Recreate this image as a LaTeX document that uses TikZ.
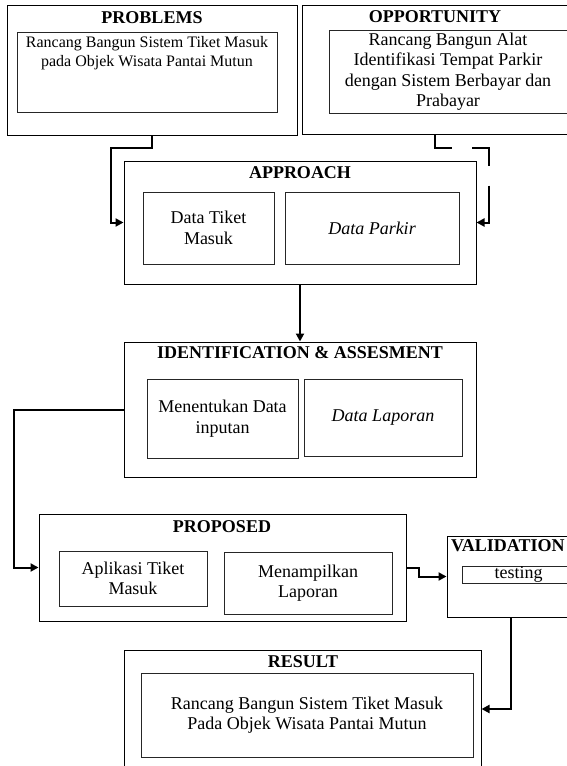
\documentclass[tikz,border=0pt]{standalone}
\usepackage{fontspec}
\setmainfont{Liberation Serif}
\usetikzlibrary{arrows.meta,positioning}
\tikzset{
        boxnode/.style={align=center,inner sep=0pt},
        % Outer frames
        node_frame/.style={boxnode, rectangle, draw=black, line width=1pt, fill=white},
        % Inner boxes
        node_inner/.style={boxnode, rectangle, draw=black!85, line width=0.9pt, font=\fontsize{18}{20.5}\selectfont},
        % Frame titles
        node_title/.style={boxnode, font=\bfseries\fontsize{18}{20}\selectfont},
        % Free text
        node_text/.style={boxnode, font=\fontsize{16}{19}\selectfont},
        % Connectors
        edge_link/.style={line width=2pt, -{Triangle[length=8pt,width=8pt]}}
}
\begin{document}
\begin{tikzpicture}[x=1pt, y=-1pt]
    \useasboundingbox (0,0) rectangle (567,766);
    \clip (0,0) rectangle (567,766);
    % Problems
    \node[node_frame, minimum width=290, minimum height=130] (problems) at (152,70) {};
    \node[node_title] (problems_title) at (152,18) {PROBLEMS};
    \node[node_inner, minimum width=260, minimum height=80] (problems_in) at (147,72) {};
    \node[node_text] (problems_txt) at (147,53.5) {Rancang Bangun Sistem Tiket Masuk\\pada Objek Wisata Pantai Mutun};
    % Opportunity
    \node[node_frame, minimum width=266, minimum height=129] (opportunity) at (435,69.5) {};
    \node[node_title] (opportunity_title) at (435,17) {OPPORTUNITY};
    \node[node_inner, minimum width=238, minimum height=83] (opportunity_in) at (448,71.5)
        {Rancang Bangun Alat\\Identifikasi Tempat Parkir\\dengan Sistem Berbayar dan\\Prabayar};
    % Approach
    \node[node_frame, minimum width=352, minimum height=123] (approach) at (300,222.5) {};
    \node[node_title] (approach_title) at (300,173) {APPROACH};
    \node[node_inner, minimum width=131, minimum height=72] (tiket) at (208.5,228) {Data Tiket\\Masuk};
    \node[node_inner, minimum width=174, minimum height=72] (parkir) at (372,228) {\itshape Data Parkir};
    % Identification
    \node[node_frame, minimum width=352, minimum height=135] (ident) at (300,409.5) {};
    \node[node_title] (ident_title) at (300,353) {IDENTIFICATION \& ASSESMENT};
    \node[node_inner, minimum width=151, minimum height=79] (inputan) at (222.5,418.5) {Menentukan Data\\inputan};
    \node[node_inner, minimum width=158, minimum height=77] (laporan) at (383,417.5) {\itshape Data Laporan};
    % Proposed
    \node[node_frame, minimum width=367, minimum height=107] (proposed) at (222.5,567.5) {};
    \node[node_title] (proposed_title) at (222,527) {PROPOSED};
    \node[node_inner, minimum width=148, minimum height=55] (aplikasi) at (133,578.5) {Aplikasi Tiket\\Masuk};
    \node[node_inner, minimum width=168, minimum height=62] (tampil) at (308,583) {Menampilkan\\Laporan};
    % Validation
    \node[node_frame, minimum width=128, minimum height=81] (validation) at (511,576.5) {};
    \node[node_title, anchor=west] (validation_title) at (451,546) {VALIDATION};
    \node[node_inner, minimum width=113, minimum height=17] (testing) at (518.5,574.5) {testing};
    % Result
    \node[node_frame, minimum width=357, minimum height=118] (result) at (302.5,709) {};
    \node[node_title] (result_title) at (303,662) {RESULT};
    \node[node_inner, minimum width=332, minimum height=84] (result_in) at (307,715)
        {Rancang Bangun Sistem Tiket Masuk\\Pada Objek Wisata Pantai Mutun};
    % Connectors
    \draw[edge_link] (problems.south) -- ++(0,12) -- ++(-41,0) |- (approach.west);
    \draw[edge_link, dash pattern=on 30pt off 20pt on 35pt off 20pt on 80pt off 1pt]
        (opportunity.south) -- ++(0,13) -- ++(54,0) |- (approach.east);
    \draw[edge_link] (approach.south) -- (ident.north);
    \draw[edge_link] (ident.west) -- ++(-110,0) |- (proposed.west);
    \draw[edge_link] (proposed.east) -- ++(12,0) |- (validation.west);
    \draw[edge_link] (validation.south) |- (result.east);
\end{tikzpicture}
\end{document}
